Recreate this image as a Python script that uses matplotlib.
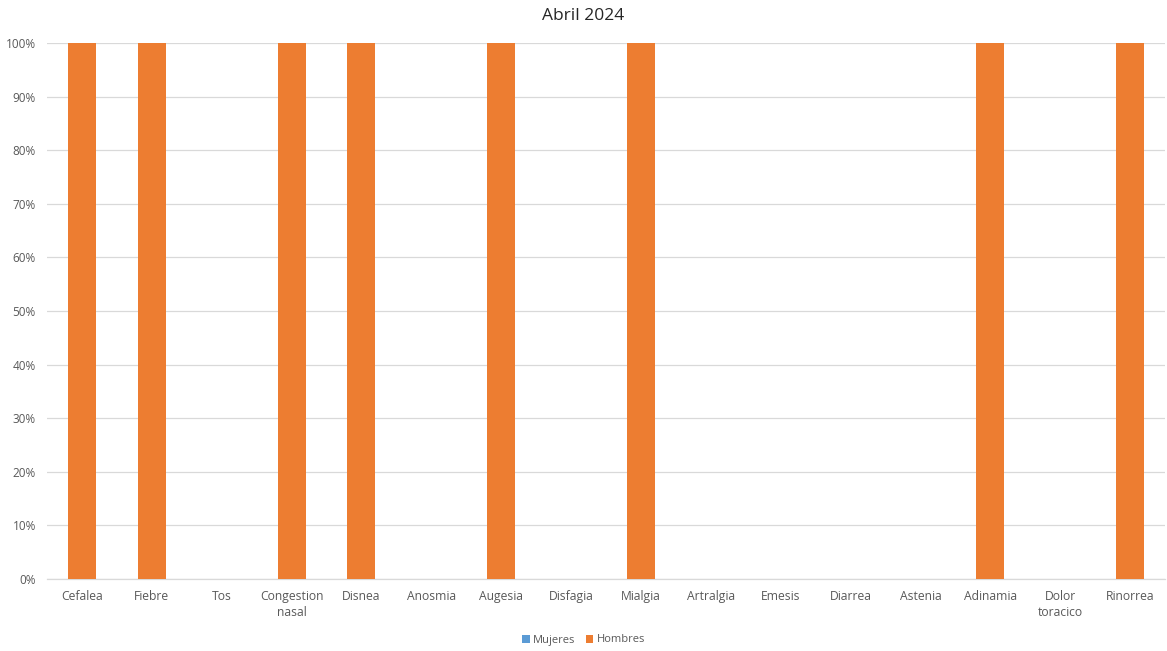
import matplotlib
matplotlib.use("Agg")
import matplotlib.pyplot as plt
from matplotlib.ticker import FuncFormatter, MultipleLocator

categories = ["Cefalea", "Fiebre", "Tos", "Congestion\nnasal", "Disnea", "Anosmia",
              "Augesia", "Disfagia", "Mialgia", "Artralgia", "Emesis", "Diarrea",
              "Astenia", "Adinamia", "Dolor\ntoracico", "Rinorrea"]
mujeres = [0, 0, 0, 0, 0, 0, 0, 0, 0, 0, 0, 0, 0, 0, 0, 0]
hombres = [100, 100, 0, 100, 100, 0, 100, 0, 100, 0, 0, 0, 0, 100, 0, 100]

plt.rcParams["font.family"] = ["Open Sans", "DejaVu Sans"]
text_color = "#595959"

fig = plt.figure(figsize=(11.67, 6.51), dpi=100)
ax = fig.add_axes([47 / 1167, 1 - 579 / 651, (1165 - 47) / 1167, (579 - 43) / 651])

x = list(range(len(categories)))
width = 0.4
ax.bar(x, mujeres, width, color="#5B9BD5", label="Mujeres", zorder=3)
ax.bar(x, hombres, width, bottom=mujeres, color="#ED7D31", label="Hombres", zorder=3)

ax.set_xlim(-0.5, len(categories) - 0.5)
ax.set_ylim(0, 100)
ax.yaxis.set_major_locator(MultipleLocator(10))
ax.yaxis.set_major_formatter(FuncFormatter(lambda v, p: f"{v:.0f}%"))
ax.grid(axis="y", color="#D9D9D9", linewidth=0.9, zorder=0)
ax.set_axisbelow(True)

for s in ["top", "right", "left"]:
    ax.spines[s].set_visible(False)
ax.spines["bottom"].set_color("#D9D9D9")
ax.spines["bottom"].set_linewidth(0.9)

ax.set_xticks(x)
ax.set_xticklabels(categories, fontsize=8.7, color=text_color, linespacing=1.3, va="top")
ax.tick_params(axis="x", length=0, pad=8)
ax.tick_params(axis="y", length=0, pad=8, labelsize=8.5, labelcolor=text_color)

fig.text(0.5, 1 - 16 / 651, "Abril 2024", ha="center", va="center", fontsize=12.5, color="#262626")

fig.legend(loc="center", bbox_to_anchor=(0.5, 1 - 640 / 651), ncol=2, frameon=False,
           fontsize=8, handlelength=0.7, handleheight=0.7, handletextpad=0.3,
           columnspacing=0.9, labelcolor=text_color)

fig.savefig("out.png", dpi=100, facecolor="white")
